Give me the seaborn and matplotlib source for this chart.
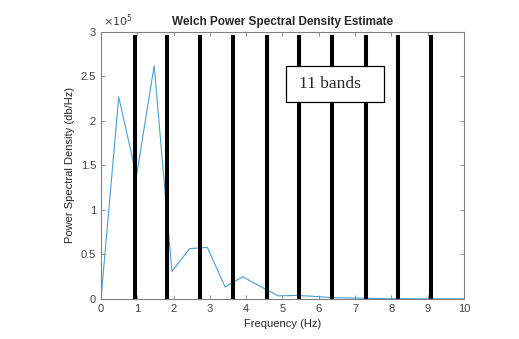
import numpy as np
import pandas as pd
import seaborn as sns
import matplotlib.pyplot as plt
from matplotlib.ticker import FuncFormatter
from matplotlib.patches import Rectangle

# PSD values (Welch estimate)
freq = [0.0, 0.488, 0.977, 1.465, 1.953, 2.441, 2.930, 3.418, 3.906, 4.395, 4.883,
        5.371, 5.859, 6.348, 6.836, 7.324, 7.813, 8.301, 8.789, 9.277, 9.766, 10.254]
psd = [0.0, 2.27e5, 1.38e5, 2.62e5, 0.31e5, 0.565e5, 0.58e5, 0.135e5, 0.25e5, 0.14e5, 0.035e5,
       0.04e5, 0.03e5, 0.015e5, 0.012e5, 0.008e5, 0.004e5, 0.003e5, 0.002e5, 0.002e5, 0.001e5, 0.001e5]

# band boundaries (11 bands over 0-10 Hz)
band_edges = [0.925, 1.83, 2.74, 3.64, 4.57, 5.46, 6.37, 7.29, 8.19, 9.08]

df = pd.DataFrame({'Frequency': freq, 'PSD': psd})

sns.set_style("white")
plt.rcParams['font.family'] = ['Liberation Sans', 'DejaVu Sans']

fig = plt.figure(figsize=(5.19, 3.39), dpi=100)
ax = fig.add_axes([0.1946, 0.118, 0.6994, 0.788])

sns.lineplot(data=df, x='Frequency', y='PSD', ax=ax, color='#4a9fd3', linewidth=0.8)
ax.vlines(band_edges, 0, 2.97e5, color='black', linewidth=2.9, zorder=3)

ax.set_xlim(0, 10)
ax.set_ylim(0, 3e5)
ax.set_xticks(range(0, 11))
ax.set_yticks(np.arange(0, 3.01e5, 0.5e5))
ax.yaxis.set_major_formatter(FuncFormatter(lambda v, p: f"{v / 1e5:g}"))

ax.set_title('Welch Power Spectral Density Estimate', fontsize=8.5, fontweight='bold', pad=5)
ax.set_xlabel('Frequency (Hz)', fontsize=8, color='#262626')
ax.set_ylabel('Power Spectral Density (db/Hz)', fontsize=8, color='#262626')

for s in ax.spines.values():
    s.set_color('#808080')
    s.set_linewidth(0.8)
ax.tick_params(direction='in', length=3, width=0.6, color='#808080', labelsize=8,
               labelcolor='#404040', top=True, right=True, bottom=True, left=True)

fig.text(0.198, 0.925, r'$\times10^5$', fontsize=8, color='#404040')

# "11 bands" annotation box
ax.add_patch(Rectangle((0.509, 0.738), 0.272, 0.135, transform=ax.transAxes,
                       facecolor='white', edgecolor='black', linewidth=0.9, zorder=4))
ax.text(0.545, 0.805, '11 bands', transform=ax.transAxes, fontsize=12.5,
        family='Liberation Serif', va='center', ha='left', zorder=5)

fig.savefig('out.png', dpi=100)
